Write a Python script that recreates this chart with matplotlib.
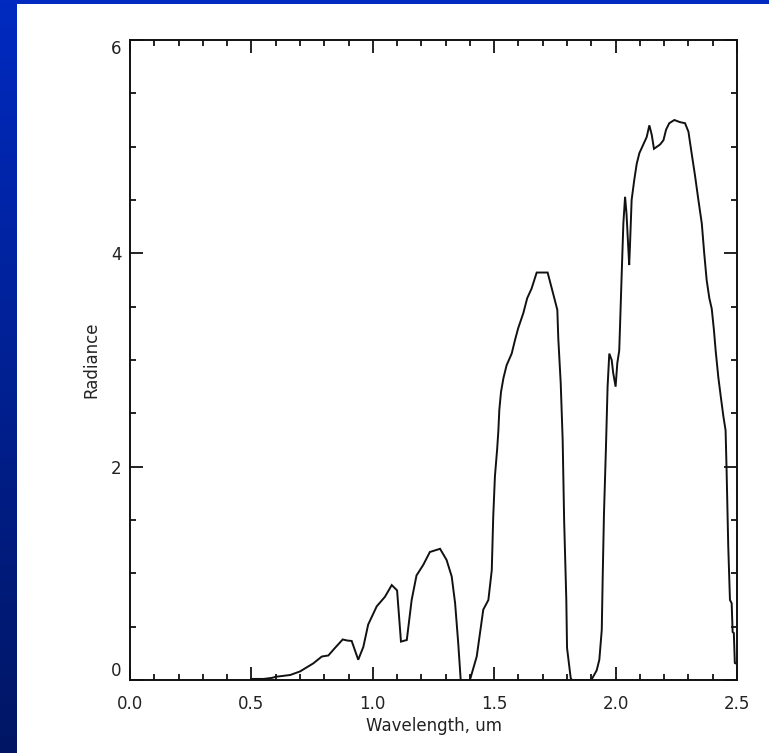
import numpy as np
import matplotlib
matplotlib.use("Agg")
import matplotlib.pyplot as plt
from matplotlib.ticker import MultipleLocator

wavelength = [0.50, 0.55, 0.585, 0.60, 0.66, 0.70, 0.755, 0.79, 0.817, 0.844, 0.876, 0.895,
              0.913, 0.94, 0.961, 0.981, 1.016, 1.05, 1.078, 1.10, 1.116, 1.14, 1.16, 1.18,
              1.208, 1.235, 1.277, 1.304, 1.325, 1.339, 1.352, 1.362, 1.40, 1.428, 1.455,
              1.476, 1.49, 1.496, 1.503, 1.512, 1.517, 1.521, 1.528, 1.538, 1.551, 1.572,
              1.586, 1.599, 1.62, 1.636, 1.654, 1.675, 1.72, 1.743, 1.76, 1.764, 1.774,
              1.782, 1.788, 1.797, 1.80, 1.815, 1.82, 1.90, 1.922, 1.933, 1.943, 1.947,
              1.952, 1.96, 1.967, 1.974, 1.984, 1.99, 2.0, 2.007, 2.015, 2.018, 2.025,
              2.032, 2.039, 2.045, 2.052, 2.056, 2.059, 2.066, 2.077, 2.087, 2.098, 2.114,
              2.128, 2.139, 2.149, 2.158, 2.183, 2.197, 2.208, 2.221, 2.242, 2.265, 2.286,
              2.30, 2.313, 2.327, 2.341, 2.355, 2.365, 2.375, 2.386, 2.396, 2.405, 2.412,
              2.423, 2.433, 2.444, 2.453, 2.457, 2.464, 2.471, 2.478, 2.482, 2.487, 2.491,
              2.50]
radiance = [0.01, 0.01, 0.02, 0.03, 0.047, 0.08, 0.156, 0.22, 0.23, 0.30, 0.38, 0.37,
            0.366, 0.19, 0.31, 0.52, 0.69, 0.78, 0.89, 0.84, 0.36, 0.375, 0.75, 0.98,
            1.08, 1.20, 1.23, 1.125, 0.97, 0.72, 0.34, 0.0, 0.0, 0.22, 0.66,
            0.75, 1.03, 1.53, 1.91, 2.16, 2.33, 2.53, 2.70, 2.83, 2.95, 3.06,
            3.19, 3.30, 3.44, 3.58, 3.67, 3.82, 3.82, 3.62, 3.47, 3.20, 2.78,
            2.25, 1.5, 0.75, 0.3, 0.02, 0.0, 0.0, 0.09, 0.19, 0.47, 0.98,
            1.55, 2.16, 2.75, 3.06, 3.0, 2.88, 2.75, 2.97, 3.09, 3.30, 3.80,
            4.28, 4.53, 4.37, 4.06, 3.89, 4.06, 4.50, 4.69, 4.84, 4.94, 5.02,
            5.09, 5.20, 5.11, 4.98, 5.02, 5.06, 5.16, 5.22, 5.25, 5.23, 5.22,
            5.14, 4.94, 4.73, 4.50, 4.28, 4.0, 3.75, 3.58, 3.48, 3.28, 3.09,
            2.84, 2.66, 2.47, 2.34, 1.98, 1.25, 0.75, 0.72, 0.45, 0.44, 0.16,
            0.15]

x_ticks = [0.0, 0.5, 1.0, 1.5, 2.0, 2.5]
x_ticklabels = ["0.0", "0.5", "1.0", "1.5", "2.0", "2.5"]
y_ticks = [0, 2, 4, 6]
y_ticklabels = ["0", "2", "4", "6"]

W, H = 769, 753
fig = plt.figure(figsize=(W / 100, H / 100), dpi=100)
fig.patch.set_facecolor("white")

# blue frame: left gradient strip and top strip
bg = fig.add_axes([0, 0, 1, 1])
bg.set_xlim(0, W)
bg.set_ylim(H, 0)
bg.axis("off")
top_c = np.array([0, 42, 192]) / 255.0
bot_c = np.array([0, 22, 100]) / 255.0
t = np.linspace(0, 1, 256)[:, None]
grad = (top_c[None, :] * (1 - t) + bot_c[None, :] * t)[:, None, :]
bg.imshow(grad, extent=[0, 17, H, 0], aspect="auto", interpolation="bilinear")
bg.add_patch(plt.Rectangle((0, 0), W, 4, color=top_c, lw=0))
bg.set_xlim(0, W)
bg.set_ylim(H, 0)

ax = fig.add_axes([130 / W, (H - 680) / H, (737 - 130) / W, (680 - 40) / H])
ax.plot(wavelength, radiance, color="#111111", lw=1.4, solid_joinstyle="miter")
ax.set_xlim(0, 2.5)
ax.set_ylim(0, 6)

ax.set_xticks(x_ticks)
ax.set_xticklabels(x_ticklabels)
ax.set_yticks(y_ticks)
ax.set_yticklabels(y_ticklabels)
ax.xaxis.set_minor_locator(MultipleLocator(0.1))
ax.yaxis.set_minor_locator(MultipleLocator(0.5))
ax.tick_params(which="both", direction="in", top=True, right=True, width=1.3,
               color="#111111", labelsize=12, labelcolor="#222222")
ax.tick_params(which="major", length=9.5)
ax.tick_params(which="minor", length=4.5)
ax.tick_params(axis="x", pad=11)
ax.tick_params(axis="y", pad=6)
for s in ax.spines.values():
    s.set_linewidth(1.4)
    s.set_color("#111111")

ylabels = ax.get_yticklabels()
ylabels[0].set_va("bottom")
ylabels[-1].set_va("top")

ax.set_xlabel("Wavelength, um", fontsize=12, color="#222222", labelpad=3)
ax.set_ylabel("Radiance", fontsize=12, color="#222222", labelpad=8)

fig.savefig("out.png", dpi=100, facecolor="white")
